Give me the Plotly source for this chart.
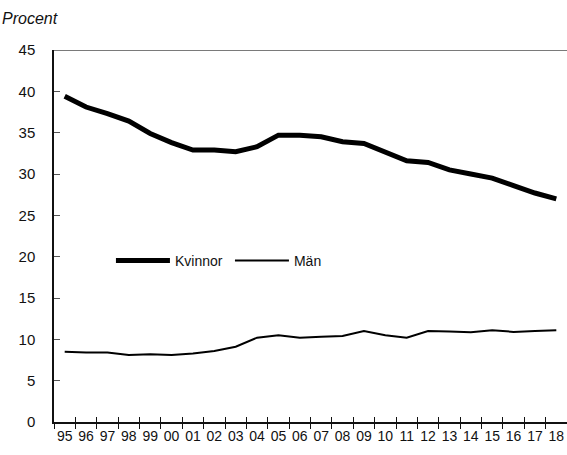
import plotly.graph_objects as go

years = ["95", "96", "97", "98", "99", "00", "01", "02", "03", "04", "05", "06",
         "07", "08", "09", "10", "11", "12", "13", "14", "15", "16", "17", "18"]
kvinnor = [39.4, 38.1, 37.3, 36.4, 34.9, 33.8, 32.9, 32.9, 32.7, 33.3, 34.7, 34.7,
           34.5, 33.9, 33.7, 32.7, 31.6, 31.4, 30.5, 30.0, 29.5, 28.6, 27.7, 27.0]
man = [8.5, 8.4, 8.4, 8.1, 8.2, 8.1, 8.3, 8.6, 9.1, 10.2, 10.5, 10.2,
       10.3, 10.4, 11.0, 10.5, 10.2, 11.0, 10.95, 10.85, 11.1, 10.9, 11.0, 11.1]
y_ticks = [0, 5, 10, 15, 20, 25, 30, 35, 40, 45]
y_max = 45

x_font = dict(family="Liberation Sans, sans-serif", size=14, color="#111")
y_font = dict(family="Liberation Sans, sans-serif", size=15, color="#111")

fig = go.Figure()
fig.add_trace(go.Scatter(x=years, y=kvinnor, mode="lines", name="Kvinnor",
                         line=dict(color="black", width=5)))
fig.add_trace(go.Scatter(x=years, y=man, mode="lines", name="Män",
                         line=dict(color="black", width=2)))
# invisible trace to activate the overlay axis (inner half of crossing ticks)
fig.add_trace(go.Scatter(x=years, y=man, mode="lines", xaxis="x2", showlegend=False,
                         hoverinfo="skip", line=dict(color="rgba(0,0,0,0)", width=0)))

fig.add_shape(type="line", xref="paper", yref="y", x0=0, x1=1, y0=y_max, y1=y_max,
              line=dict(color="#7a7a7a", width=2), layer="below")

fig.update_layout(
    width=567, height=455,
    margin=dict(l=54, r=0, t=50, b=33),
    paper_bgcolor="white", plot_bgcolor="white",
    showlegend=True,
    legend=dict(orientation="h", x=0.111, y=0.433, xanchor="left", yanchor="middle",
                font=dict(family="Liberation Sans, sans-serif", size=14, color="#111"),
                bgcolor="rgba(0,0,0,0)", itemwidth=54,
                entrywidth=50, entrywidthmode="pixels"),
    xaxis=dict(type="category", categoryorder="array", categoryarray=years,
               range=[-0.5, len(years) - 0.5], automargin=False, tickangle=0,
               showgrid=False, zeroline=False,
               showline=True, linecolor="#111", linewidth=1.5,
               ticks="outside", ticklen=5, tickwidth=1, tickcolor="#111",
               tickson="boundaries", tickfont=x_font),
    xaxis2=dict(type="category", categoryorder="array", categoryarray=years,
                range=[-0.5, len(years) - 0.5], overlaying="x", anchor="y",
                side="bottom", showgrid=False, zeroline=False, showline=False,
                automargin=False,
                ticks="inside", ticklen=5, tickwidth=1, tickcolor="#111",
                tickson="boundaries", showticklabels=False),
    yaxis=dict(range=[0, y_max], tickvals=y_ticks, showgrid=False, zeroline=False,
               automargin=False,
               showline=True, linecolor="#111", linewidth=1.5,
               ticks="inside", ticklen=6, tickwidth=1, tickcolor="#555",
               ticklabelstandoff=14, tickfont=y_font),
    annotations=[dict(text="<i>Procent</i>", xref="paper", yref="paper",
                      x=-54 / 513, y=1 + 32 / 372, xanchor="left", yanchor="middle",
                      showarrow=False,
                      font=dict(family="Liberation Sans, Arial, sans-serif", size=16, color="#111"))],
)

fig.write_html("out.html", config={"displayModeBar": False},
               post_script="document.body.style.margin='0';document.body.style.overflow='hidden';")
